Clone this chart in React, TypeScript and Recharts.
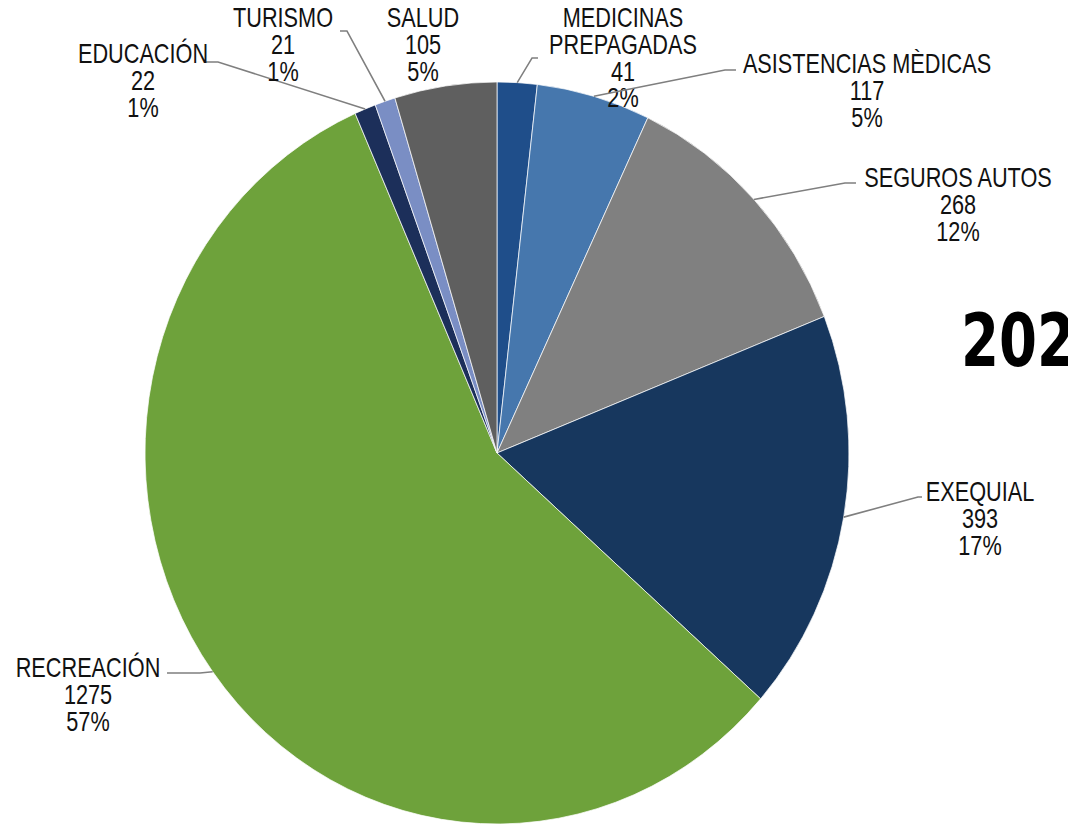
import React from 'react';
import { PieChart, Pie, Cell } from 'recharts';

const CATEGORIES = [
  'MEDICINAS\nPREPAGADAS',
  'ASISTENCIAS MÈDICAS',
  'SEGUROS AUTOS',
  'EXEQUIAL',
  'RECREACIÓN',
  'EDUCACIÓN',
  'TURISMO',
  'SALUD',
];
const VALUES = [41, 117, 268, 393, 1275, 22, 21, 105];
const PERCENT_LABELS = ['2%', '5%', '12%', '17%', '57%', '1%', '1%', '5%'];
const YEAR_LABEL = '202';

const COLORS = ['#1f4e8a', '#4677ad', '#808080', '#17375e', '#6ea23b', '#1c2f5a', '#7a8ec4', '#5f5f5f'];

// page is stretched vertically a little, text a bit more
const W = 1068;
const H = 826;
const SY = 1.054;
const TY = 1.18;
const FONT = '"Liberation Sans", Arial, sans-serif';
const FS = 21.7;
const LH = 26.6;

// label placement in screen pixels: text centre x, first line centre y, leader elbow + end
const LABEL_LAYOUT = [
  { x: 623, y: 18, elbow: [532, 58], end: [538, 58] },
  { x: 867, y: 64, elbow: [725, 70], end: [736, 70] },
  { x: 958, y: 178, elbow: [845, 183], end: [856, 183] },
  { x: 980, y: 492, elbow: [918, 497], end: [922, 497] },
  { x: 88, y: 668, elbow: [200, 673], end: [167, 673] },
  { x: 143, y: 54, elbow: [218, 62], end: [206, 62] },
  { x: 283, y: 18, elbow: [347, 31], end: [340, 31] },
  { x: 423, y: 18, elbow: null, end: null },
];

const data = CATEGORIES.map((name, i) => ({ name, value: VALUES[i], pct: PERCENT_LABELS[i] }));

const RADIAN = Math.PI / 180;

const renderLabel = (props: any) => {
  const { cx, cy, midAngle, outerRadius, index } = props;
  const d = data[index];
  const lay = LABEL_LAYOUT[index];
  const lines = [...d.name.split('\n'), String(d.value), d.pct];
  const sx = cx + outerRadius * Math.cos(-midAngle * RADIAN);
  const sy = cy + outerRadius * Math.sin(-midAngle * RADIAN);
  return (
    <g>
      {lay.elbow && lay.end && (
        <polyline
          points={`${sx},${sy} ${lay.elbow[0]},${lay.elbow[1] / SY} ${lay.end[0]},${lay.end[1] / SY}`}
          fill="none"
          stroke="#7f7f7f"
          strokeWidth={1.5}
        />
      )}
      {lines.map((t, i) => (
        <text
          key={i}
          transform={`translate(${lay.x},${(lay.y + i * LH) / SY}) scale(1,${TY})`}
          x={0}
          y={0}
          textAnchor="middle"
          dominantBaseline="central"
          fontFamily={FONT}
          fontSize={FS}
          fill="#111"
        >
          {t}
        </text>
      ))}
    </g>
  );
};

export default function App() {
  return (
    <div
      style={{
        position: 'absolute',
        left: 0,
        top: 0,
        width: W,
        height: H,
        overflow: 'hidden',
        background: '#fff',
      }}
    >
      <div style={{ transform: `scaleY(${SY})`, transformOrigin: 'top left' }}>
        <PieChart width={W} height={H / SY} margin={{ top: 0, right: 0, bottom: 0, left: 0 }}>
          <Pie
            data={data}
            dataKey="value"
            nameKey="name"
            cx={497}
            cy={453 / SY}
            outerRadius={352}
            startAngle={90}
            endAngle={-270}
            stroke="#ffffff"
            strokeWidth={0.7}
            label={renderLabel}
            labelLine={false}
            isAnimationActive={false}
          >
            {data.map((entry, index) => (
              <Cell key={`cell-${index}`} fill={COLORS[index % COLORS.length]} />
            ))}
          </Pie>
          <text
            transform={`translate(961,${366 / SY}) scale(1,1.26)`}
            x={0}
            y={0}
            fontFamily='"DejaVu Sans", sans-serif'
            fontWeight="bold"
            fontSize={54.6}
            fill="#000"
          >
            {YEAR_LABEL}
          </text>
        </PieChart>
      </div>
    </div>
  );
}
